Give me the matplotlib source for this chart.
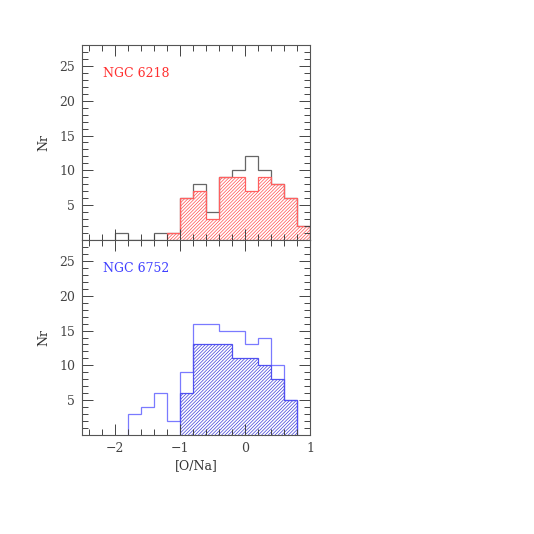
import matplotlib
matplotlib.use('Agg')
import matplotlib.pyplot as plt
from matplotlib.ticker import MultipleLocator

# NGC 6218 (top panel)
edges_6218_all = [-2.0, -1.8, -1.6, -1.4, -1.2, -1.0, -0.8, -0.6, -0.4, -0.2, 0.0, 0.2, 0.4, 0.6, 0.8, 1.0]
counts_6218_all = [1, 0, 0, 1, 1, 6, 8, 4, 9, 10, 12, 10, 8, 6, 2]
edges_6218_sub = [-1.2, -1.0, -0.8, -0.6, -0.4, -0.2, 0.0, 0.2, 0.4, 0.6, 0.8, 1.0]
counts_6218_sub = [1, 6, 7, 3, 9, 9, 7, 9, 8, 6, 2]

# NGC 6752 (bottom panel)
edges_6752_all = [-1.8, -1.6, -1.4, -1.2, -1.0, -0.8, -0.6, -0.4, -0.2, 0.0, 0.2, 0.4, 0.6, 0.8]
counts_6752_all = [3, 4, 6, 2, 9, 16, 16, 15, 15, 13, 14, 10, 5]
edges_6752_sub = [-1.0, -0.8, -0.6, -0.4, -0.2, 0.0, 0.2, 0.4, 0.6, 0.8]
counts_6752_sub = [6, 13, 13, 13, 11, 11, 10, 8, 5]

plt.rcParams['hatch.linewidth'] = 0.5
plt.rcParams['font.family'] = 'DejaVu Serif'
fig = plt.figure(figsize=(5.34, 5.34), dpi=100)
ax1 = fig.add_axes([0.1536, 0.5506, 0.4270, 0.3651])
ax2 = fig.add_axes([0.1536, 0.1854, 0.4270, 0.3651])

def panel(ax, e_all, c_all, e_sub, c_sub, outline_col, col, hatch_col, text_col, name):
    ax.stairs(c_all, e_all, baseline=0, color=outline_col, lw=0.9)
    ax.bar(e_sub[:-1], c_sub, width=0.2, align='edge', fill=False,
           hatch='//////////', edgecolor=hatch_col, linewidth=0)
    ax.stairs(c_sub, e_sub, baseline=0, color=col, lw=0.9)
    ax.set_xlim(-2.5, 1.0)
    ax.set_ylim(0, 28)
    ax.xaxis.set_major_locator(MultipleLocator(1))
    ax.xaxis.set_minor_locator(MultipleLocator(0.2))
    ax.set_yticks([5, 10, 15, 20, 25])
    ax.yaxis.set_minor_locator(MultipleLocator(1))
    ax.tick_params(which='both', direction='in', top=True, right=True,
                   labelsize=9, colors='#444444', width=0.7)
    ax.tick_params(which='major', length=8, pad=5)
    ax.tick_params(which='minor', length=4)
    for s in ax.spines.values():
        s.set_linewidth(0.8)
        s.set_color('#555555')
    ax.set_ylabel('Nr', fontsize=9, labelpad=6, color='#333333')
    ax.text(0.09, 0.835, name, color=text_col, fontsize=9, transform=ax.transAxes)

panel(ax1, edges_6218_all, counts_6218_all, edges_6218_sub, counts_6218_sub,
      '#666666', '#ff6060', '#ff5050', '#ff3030', 'NGC 6218')
panel(ax2, edges_6752_all, counts_6752_all, edges_6752_sub, counts_6752_sub,
      '#7a7aff', '#5050f0', '#4040d8', '#4040ff', 'NGC 6752')
ax1.tick_params(labelbottom=False)
ax2.set_xticks([-2, -1, 0, 1])
ax2.set_xticklabels(['\u22122', '\u22121', '0', '1'])
ax2.set_xlabel('[O/Na]', fontsize=9, labelpad=3, color='#333333')

fig.savefig('out.png', dpi=100)
